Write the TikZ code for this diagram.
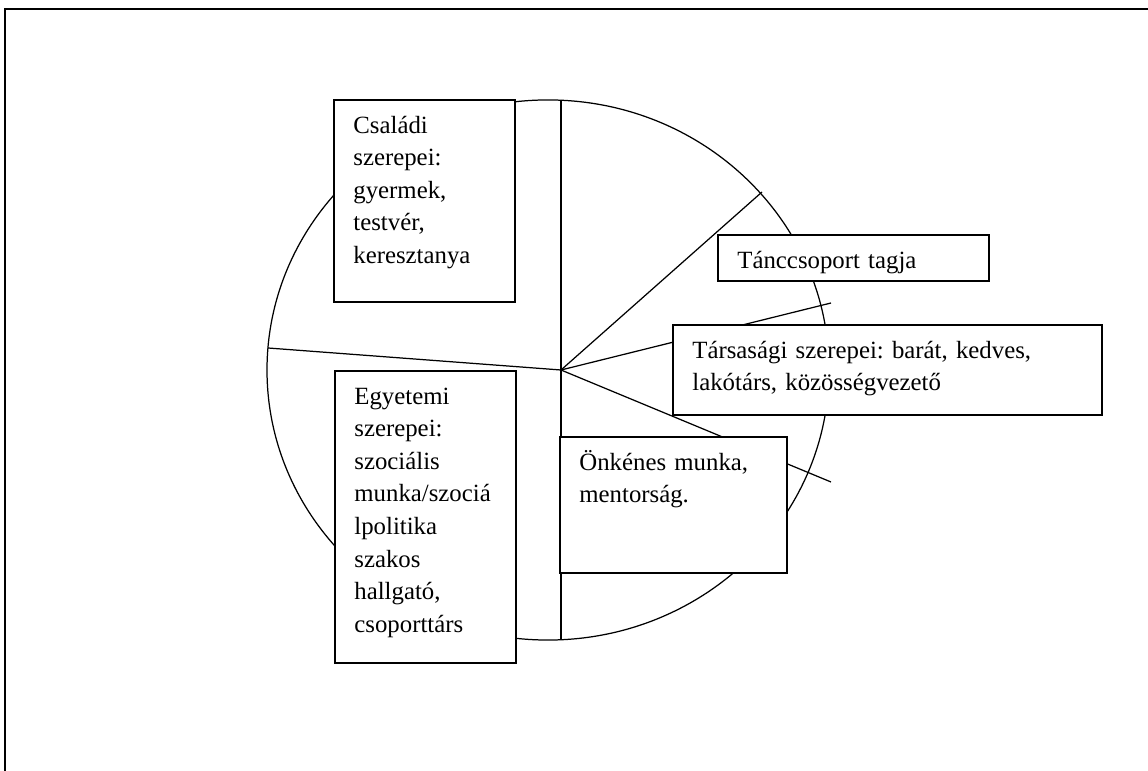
\documentclass[tikz,border=0pt]{standalone}
\usepackage{fontspec}
\setmainfont{Liberation Serif}
\usetikzlibrary{positioning}
\frenchspacing

\begin{document}
\begin{tikzpicture}[
    x=0.484pt, y=-0.484pt,
    rolebox/.style={draw, fill=white, line width=0.6pt, anchor=north west, align=left, inner xsep=9.4pt, inner ysep=0pt, outer sep=0pt, text height=16pt, font=\fontsize{12}{15.8}\selectfont},
    spoke/.style={line width=0.6pt}
  ]
  \useasboundingbox (0,0) rectangle (1148,771);
  \draw[line width=1pt] (5,771) -- (5,9) -- (1148,9);
  % circle and its spokes
  \coordinate (mid) at (548,370);
  \coordinate (hub) at (561,370);
  \coordinate (top) at (561,100);
  \coordinate (bottom) at (561,640);
  \coordinate (west) at (268,348);
  \coordinate (northeast) at (762,192);
  \coordinate (east) at (831,303);
  \coordinate (southeast) at (831,482);
  \draw[spoke] (mid) ellipse [x radius=136pt, y radius=130.7pt];
  \draw[spoke] (top) -- (bottom);
  \draw[spoke] (hub) -- (west);
  \draw[spoke] (hub) -- (northeast);
  \draw[spoke] (hub) -- (east);
  \draw[spoke] (hub) -- (southeast);
  % role boxes
  \node[rolebox, text width=68.8pt, text depth=81.8pt] (family) at (334,100) {Családi\\szerepei:\\gyermek,\\testvér,\\keresztanya};
  \node[rolebox, text width=68.8pt, text depth=125.3pt] (university) at (335,371) {Egyetemi\\szerepei:\\szociális\\munka/szociá\\lpolitika\\szakos\\hallgató,\\csoporttárs};
  \node[rolebox, text width=91.1pt, text depth=49.8pt] (volunteer) at (560,437) {Önkénes munka,\\mentorság.};
  \node[rolebox, text width=112.4pt, text depth=6.3pt] (dance) at (718,235) {Tánccsoport tagja};
  \node[rolebox, text width=188.8pt, text depth=27.6pt] (social) at (673,325) {Társasági szerepei: barát, kedves,\\lakótárs, közösségvezető};
\end{tikzpicture}
\end{document}
